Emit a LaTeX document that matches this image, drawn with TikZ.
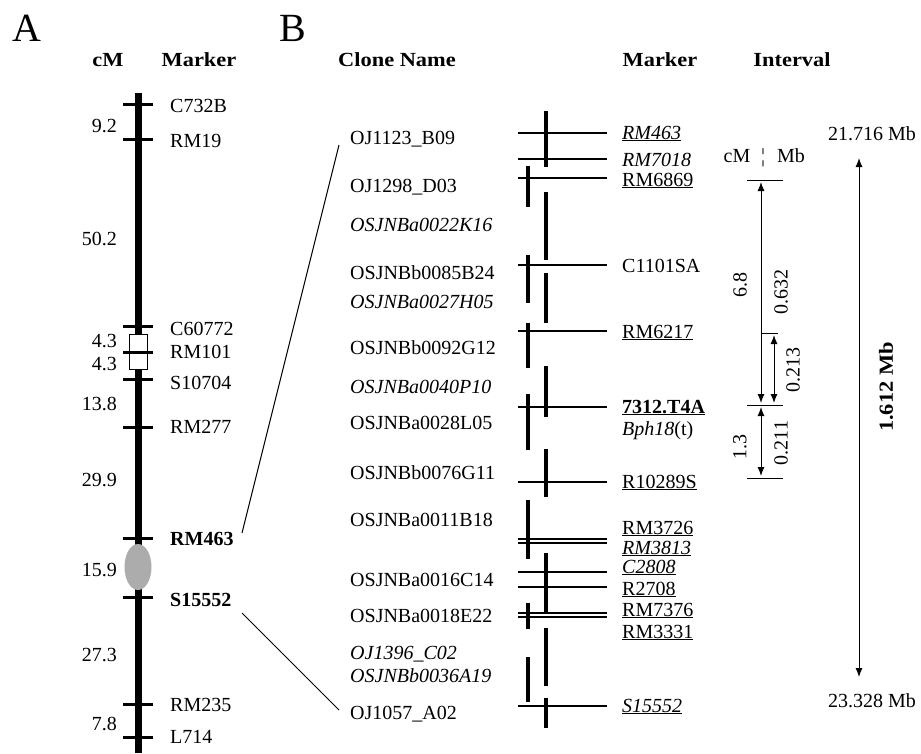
\documentclass[tikz,border=0pt]{standalone}
\usepackage{fontspec}
\setmainfont{Liberation Serif}
\usetikzlibrary{arrows.meta}
\begin{document}
\begin{tikzpicture}[x=1pt,y=-1pt,
  every node/.style={inner sep=0pt, font=\fontsize{20}{22}\selectfont},
  lbl/.style={anchor=base west},
  num/.style={anchor=base east},
  boldlbl/.style={anchor=base west, font=\fontsize{20}{22}\selectfont\bfseries},
  hdr/.style={anchor=base, font=\fontsize{20}{22}\selectfont\bfseries\addfontfeature{FakeStretch=1.12}},
  panel/.style={anchor=center, font=\fontsize{40}{42}\selectfont},
  chrom/.style={line width=7pt},
  tickm/.style={line width=3pt},
  clonebar/.style={line width=4pt},
  mline/.style={line width=1.2pt},
  conn/.style={line width=1pt},
  dimarrow/.style={line width=1pt, {Latex[length=9pt,width=7pt]}-{Latex[length=9pt,width=7pt]}},
]
\useasboundingbox (0,0) rectangle (921,753);

% ---------------- Panel A ----------------
\node[panel] (pA) at (27,28) {A};
\node[hdr] (hcM) at (108,66) {cM};
\node[hdr] (hMarkerA) at (199,66) {Marker};

\draw[chrom] (138,93) -- (138,753);
% box around RM101
\draw[line width=0.8pt, fill=white] (129,334) rectangle (147,369);
% QTL ellipse
\fill[gray!65] (138,567) ellipse [x radius=13.5, y radius=23];

\foreach \yy in {104,139,326,352,379,427,538,597,704,737}
  \draw[tickm] (123,\yy) -- (153,\yy);

\node[lbl] (aC732B)  at (170,112) {C732B};
\node[lbl] (aRM19)   at (170,147) {RM19};
\node[lbl] (aC60772) at (170,335) {C60772};
\node[lbl] (aRM101)  at (170,358) {RM101};
\node[lbl] (aS10704) at (170,389) {S10704};
\node[lbl] (aRM277)  at (170,433) {RM277};
\node[boldlbl] (aRM463)  at (170,545) {RM463};
\node[boldlbl] (aS15552) at (170,606) {S15552};
\node[lbl] (aRM235)  at (170,711) {RM235};
\node[lbl] (aL714)   at (170,743) {L714};

\node[num] (n1) at (117,132) {9.2};
\node[num] (n2) at (117,245) {50.2};
\node[num] (n3) at (117,347) {4.3};
\node[num] (n4) at (117,370) {4.3};
\node[num] (n5) at (117,410) {13.8};
\node[num] (n6) at (117,486) {29.9};
\node[num] (n7) at (117,576) {15.9};
\node[num] (n8) at (117,661) {27.3};
\node[num] (n9) at (117,730) {7.8};

% ---------------- Panel B ----------------
\node[panel] (pB) at (293,28) {B};
\node[hdr] (hClone) at (397,66) {Clone Name};
\node[hdr] (hMarkerB) at (660,66) {Marker};
\node[hdr] (hInterval) at (792,66) {Interval};

\node[lbl] (c1)  at (350,144) {OJ1123\_B09};
\node[lbl] (c2)  at (350,192) {OJ1298\_D03};
\node[lbl] (c3)  at (350,231) {\textit{OSJNBa0022K16}};
\node[lbl] (c4)  at (350,279) {OSJNBb0085B24};
\node[lbl] (c5)  at (350,308) {\textit{OSJNBa0027H05}};
\node[lbl] (c6)  at (350,354) {OSJNBb0092G12};
\node[lbl] (c7)  at (350,393) {\textit{OSJNBa0040P10}};
\node[lbl] (c8)  at (350,429) {OSJNBa0028L05};
\node[lbl] (c9)  at (350,479) {OSJNBb0076G11};
\node[lbl] (c10) at (350,526) {OSJNBa0011B18};
\node[lbl] (c11) at (350,586) {OSJNBa0016C14};
\node[lbl] (c12) at (350,622) {OSJNBa0018E22};
\node[lbl] (c13) at (350,659) {\textit{OJ1396\_C02}};
\node[lbl] (c14) at (350,682) {\textit{OSJNBb0036A19}};
\node[lbl] (c15) at (350,719) {OJ1057\_A02};

% connectors from panel A to panel B
\coordinate (k1) at (339,145);
\coordinate (k2) at (339,710);
\coordinate (j1) at (242,533);
\coordinate (j2) at (242,613);
\draw[conn] (j1) -- (k1);
\draw[conn] (j2) -- (k2);

% marker lines
\foreach \yy in {133,159,178,265,331,407,482,539,543,572,587,613,617,706}
  \draw[mline] (518,\yy) -- (607,\yy);

% clone bars
\foreach \ya/\yb in {166/207,255/303,323/368,394/450,500/559,603/629,657/702}
  \draw[clonebar] (528,\ya) -- (528,\yb);
\foreach \ya/\yb in {111/167,192/260,273/323,366/417,449/497,553/612,628/686,698/728}
  \draw[clonebar] (546,\ya) -- (546,\yb);

% marker labels
\node[lbl] (m1)  at (622,139) {\underline{\textit{RM463}}};
\node[lbl] (m2)  at (622,166) {\textit{RM7018}};
\node[lbl] (m3)  at (622,186) {\underline{RM6869}};
\node[lbl] (m4)  at (622,272) {C1101SA};
\node[lbl] (m5)  at (622,338) {\underline{RM6217}};
\node[lbl] (m6)  at (622,413) {\underline{\textbf{7312.T4A}}};
\node[lbl] (m7)  at (622,435) {\textit{Bph18}(t)};
\node[lbl] (m8)  at (622,488) {\underline{R10289S}};
\node[lbl] (m9)  at (622,534) {\underline{RM3726}};
\node[lbl] (m10) at (622,554) {\underline{\textit{RM3813}}};
\node[lbl] (m11) at (622,573) {\underline{\textit{C2808}}};
\node[lbl] (m12) at (622,595) {\underline{R2708}};
\node[lbl] (m13) at (622,616) {\underline{RM7376}};
\node[lbl] (m14) at (622,638) {\underline{RM3331}};
\node[lbl] (m15) at (622,712) {\underline{\textit{S15552}}};

% ---------------- Interval ----------------
\node[anchor=base] (cmA) at (737,162) {cM};
\node[anchor=base] (cmB) at (763,162) {¦};
\node[anchor=base] (cmC) at (791,162) {Mb};
\draw[line width=1pt] (747,180) -- (783,180);
\draw[line width=1pt] (761,333) -- (778,333);
\draw[line width=1pt] (747,405) -- (783,405);
\draw[line width=1pt] (747,478) -- (783,478);
\draw[dimarrow] (761,182) -- (761,403);
\draw[dimarrow] (774,335) -- (774,403);
\draw[dimarrow] (761,407) -- (761,476);

\node[rotate=90] (i1) at (740,285) {6.8};
\node[rotate=90] (i2) at (781,292) {0.632};
\node[rotate=90] (i3) at (793,370) {0.213};
\node[rotate=90] (i4) at (740,447) {1.3};
\node[rotate=90] (i5) at (781,443) {0.211};

\node[anchor=base west] (top) at (828,140) {21.716 Mb};
\node[anchor=base west] (bot) at (828,707) {23.328 Mb};
\draw[dimarrow] (859,158) -- (859,677);
\node[rotate=90, font=\fontsize{20}{22}\selectfont\bfseries\addfontfeature{FakeStretch=1.12}] (len) at (886,387) {1.612 Mb};
\end{tikzpicture}
\end{document}
